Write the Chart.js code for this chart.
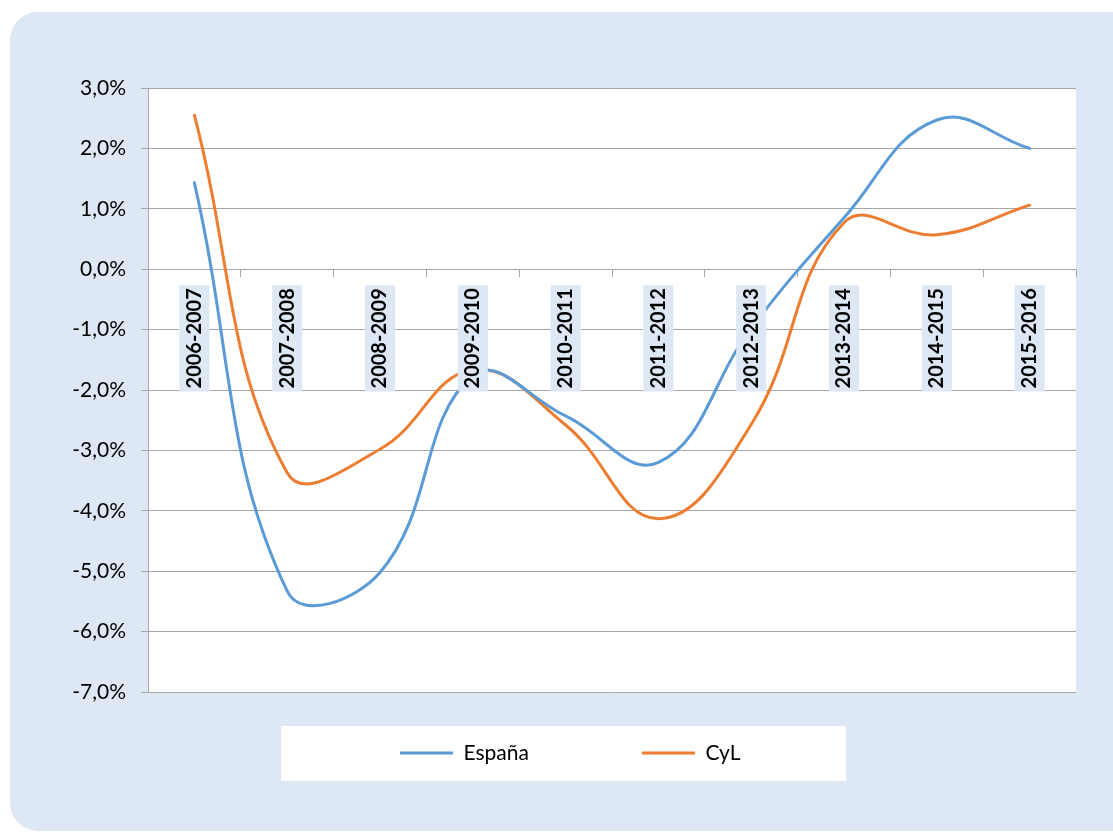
<!DOCTYPE html>
<html>
<head>
<meta charset="utf-8">
<script src="https://cdn.jsdelivr.net/npm/chart.js@4.4.1/dist/chart.umd.min.js"></script>
<style>
  html, body { margin: 0; padding: 0; background: #ffffff; }
  #wrap { position: relative; width: 1113px; height: 832px; overflow: hidden; }
  #bg { position: absolute; left: 10px; top: 12px; width: 1130px; height: 819px;
        background: #dde8f4; border-radius: 28px; }
  #c { position: absolute; left: 0; top: 0; }
</style>
</head>
<body>
<div id="wrap">
  <div id="bg"></div>
  <canvas id="c" width="1113" height="832"></canvas>
</div>
<script>
const categories = ['2006-2007','2007-2008','2008-2009','2009-2010','2010-2011',
                    '2011-2012','2012-2013','2013-2014','2014-2015','2015-2016'];
const espana = [1.43, -5.33, -5.02, -1.76, -2.43, -3.20, -0.98, 0.85, 2.47, 2.00];
const cyl    = [2.55, -3.37, -2.98, -1.67, -2.58, -4.13, -2.57, 0.77, 0.57, 1.06];
const yTicks = [3, 2, 1, 0, -1, -2, -3, -4, -5, -6, -7];

const BLUE = '#5b9bd5';
const ORANGE = '#ed7d31';
const GRID = '#a6a6a6';
const FONT = 'Lato, "DejaVu Sans", sans-serif';

const bgPlugin = {
  id: 'bgPlugin',
  beforeDraw(chart) {
    const {ctx, chartArea} = chart;
    ctx.save();
    ctx.fillStyle = '#ffffff';
    ctx.fillRect(chartArea.left, chartArea.top, chartArea.right - chartArea.left, chartArea.bottom - chartArea.top);
    // legend panel
    ctx.fillRect(281, 726, 565, 55);
    ctx.restore();
  }
};

const legendPlace = {
  id: 'legendPlace',
  afterLayout(chart) {
    const lg = chart.legend;
    if (!lg) return;
    const pad = lg.options.labels.padding;
    lg.left = 400 - pad;
    lg.right = 1000;
    lg.top = 753 - pad - 10.5;
    lg.bottom = 800;
  }
};

new Chart(document.getElementById('c'), {
  type: 'line',
  data: {
    labels: categories,
    datasets: [
      { label: 'España', data: espana, borderColor: BLUE, backgroundColor: BLUE,
        borderWidth: 3, pointRadius: 0, tension: 0.42, borderCapStyle: 'round', fill: false },
      { label: 'CyL', data: cyl, borderColor: ORANGE, backgroundColor: ORANGE,
        borderWidth: 3, pointRadius: 0, tension: 0.42, borderCapStyle: 'round', fill: false }
    ]
  },
  options: {
    responsive: false,
    animation: false,
    devicePixelRatio: 1,
    layout: { padding: { left: 0, right: 37, top: 88, bottom: 80 } },
    plugins: {
      tooltip: { enabled: false },
      legend: {
        position: 'bottom',
        align: 'start',
        maxHeight: 60,
        labels: {
          boxWidth: 53,
          boxHeight: 0,
          padding: 113,
          color: '#000000',
          font: { family: FONT, size: 21 }
        }
      }
    },
    scales: {
      x: {
        type: 'category',
        position: { y: 0 },
        offset: true,
        grid: { offset: true, drawOnChartArea: false, drawTicks: true, tickLength: 7, color: GRID, lineWidth: 1 },
        border: { display: true, color: GRID, width: 1 },
        ticks: {
          z: 1,
          minRotation: 90, maxRotation: 90,
          autoSkip: false,
          padding: 12,
          labelOffset: -12,
          color: '#000000',
          font: { family: FONT, size: 20, weight: 'bold' },
          showLabelBackdrop: true,
          backdropColor: '#dde8f4',
          backdropPadding: 3
        }
      },
      y: {
        min: -7, max: 3,
        afterFit(scale) { scale.width = 148; },
        afterBuildTicks(scale) { scale.ticks = yTicks.map(v => ({ value: v })); },
        grid: { color: GRID, lineWidth: 1, drawTicks: true, tickLength: 7 },
        border: { display: true, color: GRID, width: 1 },
        ticks: {
          stepSize: 1,
          padding: 15,
          color: '#000000',
          font: { family: FONT, size: 21 },
          callback: v => v.toFixed(1).replace('.', ',') + '%'
        }
      }
    }
  },
  plugins: [bgPlugin, legendPlace]
});
</script>
</body>
</html>
